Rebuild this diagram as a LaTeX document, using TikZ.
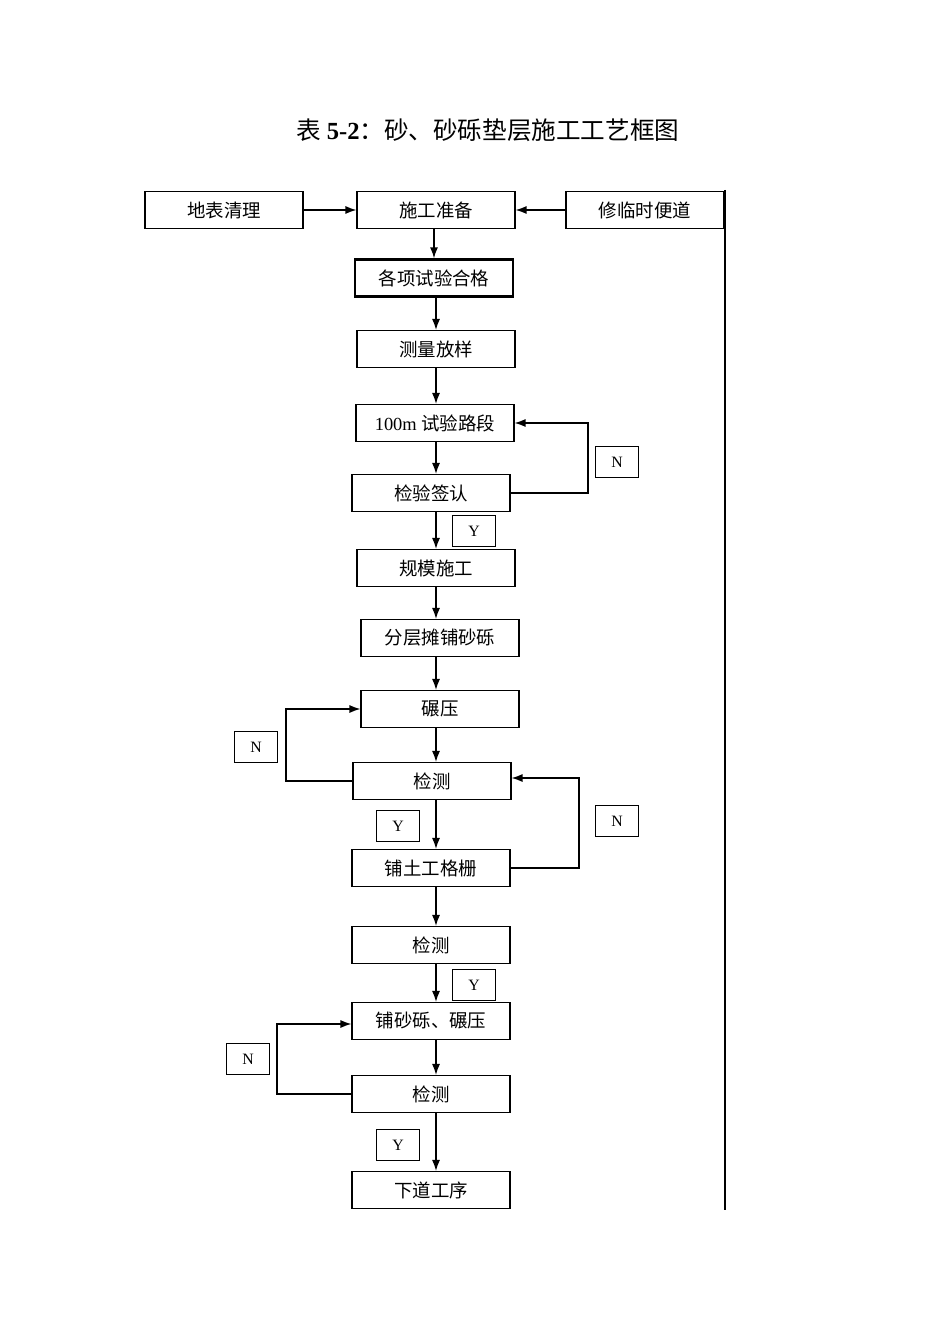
\documentclass[tikz,border=0pt]{standalone}
\usepackage{fontspec}
\setmainfont{Liberation Serif}
\newfontfamily\cjk{Noto Sans CJK SC}
\usetikzlibrary{arrows.meta}
\begin{document}
\begin{tikzpicture}[
    x=0.02cm, y=-0.02cm,
    box/.style={draw, line width=0.6pt, minimum width=3.16cm, minimum height=0.74cm,
      inner sep=0pt, font=\fontsize{10.5}{12}\selectfont\cjk},
    thick box/.style={box, line width=1.3pt},
    yn/.style={draw, line width=0.6pt, minimum width=0.85cm, minimum height=0.61cm,
      inner sep=0pt, font=\fontsize{9}{10}\selectfont},
    myarrow/.style={-{Latex[length=2.2mm,width=1.6mm]}, line width=0.8pt},
    line/.style={line width=0.8pt}
  ]
  \useasboundingbox (0,0) rectangle (950,1344);

  \node at (488,130) {\fontsize{14}{16}\selectfont{\cjk 表 }\textbf{5-2}{\cjk ：砂、砂砾垫层施工工艺框图}};

  % top row
  \node[box] (clear) at (224,210) {地表清理};
  \node[box] (prep) at (436,210) {施工准备};
  \node[box, line width=1.1pt] (road) at (645,210) {修临时便道};
  \draw[line width=0.6pt] (725,190) -- (725,1210);

  \node[thick box] (tests) at (434,278) {各项试验合格};
  \node[box] (survey) at (436,349) {测量放样};
  \node[box, font=\fontsize{10.5}{12}\selectfont] (trial) at (435,423) {100m {\cjk 试验路段}};
  \node[box] (sign) at (431,493) {检验签认};
  \node[box] (scale) at (436,568) {规模施工};
  \node[box] (spread) at (440,638) {分层摊铺砂砾};
  \node[box] (roll) at (440,709) {碾压};
  \node[box] (check1) at (432,781) {检测};
  \node[box] (grid) at (431,868) {铺土工格栅};
  \node[box] (check2) at (431,945) {检测};
  \node[box] (gravel) at (431,1021) {铺砂砾、碾压};
  \node[box] (check3) at (431,1094) {检测};
  \node[box] (next) at (431,1190) {下道工序};

  % Y / N marks
  \node[yn] (n1) at (617,462) {N};
  \node[yn] (y1) at (474,531) {Y};
  \node[yn] (n2) at (256,747) {N};
  \node[yn] (y2) at (398,826) {Y};
  \node[yn] (n3) at (617,821) {N};
  \node[yn] (y3) at (474,985) {Y};
  \node[yn] (n4) at (248,1059) {N};
  \node[yn] (y4) at (398,1145) {Y};

  % main flow
  \draw[myarrow] (clear) -- (prep);
  \draw[myarrow] (road) -- (prep);
  \draw[myarrow] (prep.south -| 434,0) -- (tests.north -| 434,0);
  \foreach \a/\b in {tests/survey, survey/trial, trial/sign, sign/scale, scale/spread,
      spread/roll, roll/check1, check1/grid, grid/check2, check2/gravel,
      gravel/check3, check3/next}
    \draw[myarrow] (\a.south -| 436,0) -- (\b.north -| 436,0);

  % loops
  \draw[myarrow] (sign.east) -| (588,423) -- (trial.east);
  \draw[myarrow] (check1.west) -| (286,709) -- (roll.west);
  \draw[myarrow] (grid.east) -| (579,778) -- (check1.east |- 0,778);
  \draw[myarrow] (check3.west) -| (277,1024) -- (gravel.west |- 0,1024);
\end{tikzpicture}
\end{document}
